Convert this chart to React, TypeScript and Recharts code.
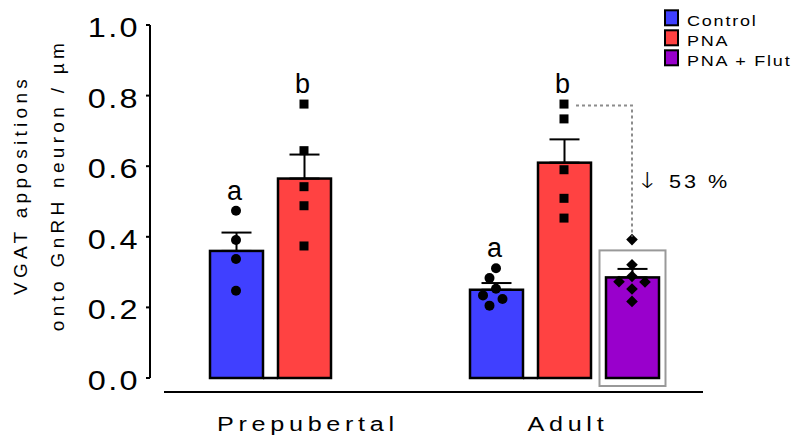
import React from 'react';
import { ComposedChart, Bar, Scatter, XAxis, YAxis, ErrorBar, Legend } from 'recharts';

// values
const groups = ['Prepubertal', 'Adult'];
const seriesNames = ['Control', 'PNA', 'PNA + Flut'];
const seriesColors = ['#4040FF', '#FF4242', '#9900CC'];

const controlMean = [0.36, 0.25];
const pnaMean = [0.565, 0.61];
const flutMean: (number | null)[] = [null, 0.285];

const controlSem = [0.052, 0.019];
const pnaSem = [0.068, 0.066];
const flutSem: (number | null)[] = [null, 0.024];

const controlPrepubertal = [0.474, 0.391, 0.337, 0.247];
const controlAdult = [0.311, 0.283, 0.253, 0.234, 0.224, 0.205];
const pnaPrepubertal = [0.776, 0.644, 0.542, 0.488, 0.374];
const pnaAdult = [0.776, 0.734, 0.59, 0.509, 0.453];
const flutAdult = [0.392, 0.321, 0.288, 0.273, 0.272, 0.252, 0.217];

const controlLetters = ['a', 'a'];
const pnaLetters = ['b', 'b'];
const reductionArrow = '↓';
const reductionLabel = ' 53 %';

const yTicks = [0, 0.2, 0.4, 0.6, 0.8, 1.0];
const yLabelLines = ['VGAT appositions', 'onto GnRH neuron / µm'];

// layout
const W = 796;
const H = 438;
const MARGIN = { top: 25, right: 93, bottom: 10, left: 0 };
const Y_AXIS_W = 150;
const X_AXIS_H = 50;
const PX_PER_UNIT = H - MARGIN.top - MARGIN.bottom - X_AXIS_H; // y domain is 0..1
const BAR_SIZE = 53;
const BAR_GAP = 15;
const SLOT = BAR_SIZE + BAR_GAP;
const SX = 1.2; // text in the figure is drawn wide
const FONT = "'Liberation Sans', Arial, sans-serif";
const SWARM_STEP = 6.5;
const SWARM_MIN = 11;

const slotOffset = (slot: number) => (slot - 1) * SLOT;

// simple beeswarm: spread points that would overlap
function swarm(values: number[]): number[] {
  const order = values.map((_, i) => i).sort((a, b) => values[b] - values[a]);
  const placed: { x: number; y: number }[] = [];
  const out = values.map(() => 0);
  for (const i of order) {
    const y = -values[i] * PX_PER_UNIT;
    for (const k of [0, -1, 1, -2, 2, -3, 3]) {
      const x = k * SWARM_STEP;
      if (placed.every((p) => Math.hypot(p.x - x, p.y - y) >= SWARM_MIN)) {
        out[i] = x;
        placed.push({ x, y });
        break;
      }
    }
  }
  return out;
}

const chartData = groups.map((group, i) => ({
  group,
  control: controlMean[i],
  pna: pnaMean[i],
  flut: flutMean[i],
  controlErr: [0, controlSem[i]],
  pnaErr: [0, pnaSem[i]],
  flutErr: flutSem[i] == null ? null : [0, flutSem[i]],
}));

const scatterRows = (lists: number[][]) =>
  lists.flatMap((vals, gi) => {
    const jit = swarm(vals);
    return vals.map((v, k) => ({ group: groups[gi], v, jitter: jit[k] }));
  });

const letterRows = (lists: number[][], letters: string[]) =>
  lists.map((vals, gi) => ({ group: groups[gi], v: Math.max(...vals), letter: letters[gi] }));

const controlRows = scatterRows([controlPrepubertal, controlAdult]);
const pnaRows = scatterRows([pnaPrepubertal, pnaAdult]);
const flutRows = scatterRows([[], flutAdult]);
const controlLetterRows = letterRows([controlPrepubertal, controlAdult], controlLetters);
const pnaLetterRows = letterRows([pnaPrepubertal, pnaAdult], pnaLetters);
const reductionRows = [
  { group: groups[1], v: Math.max(...flutAdult), from: Math.max(...pnaAdult) },
];

const barShape = (slot: number) => (props: any) => {
  const { x, y, width, height, fill, value } = props;
  const v = Array.isArray(value) ? value[1] : value;
  if (v == null || x == null || !isFinite(height)) return <g />;
  return (
    <g>
      {slot === 2 && (
        <rect
          x={x - 6.5}
          y={y - 27}
          width={width + 13}
          height={height + 35}
          fill="none"
          stroke="#999"
          strokeWidth={2}
        />
      )}
      <rect x={x} y={y} width={width} height={height} fill={fill} stroke="#000" strokeWidth={2.5} />
      {slot === 0 && (
        <line x1={x + width} x2={x + width + BAR_GAP} y1={y + height} y2={y + height} stroke="#000" strokeWidth={2.5} />
      )}
    </g>
  );
};

const markerShape = (slot: number) => (props: any) => {
  const { cx, cy, payload } = props;
  if (cx == null || cy == null) return <g />;
  const x = cx + slotOffset(slot) + (payload?.jitter ?? 0);
  if (slot === 0) return <circle cx={x} cy={cy} r={5} fill="#000" />;
  if (slot === 1) return <rect x={x - 4.5} y={cy - 4.5} width={9} height={9} fill="#000" />;
  return <path d={`M${x} ${cy - 5.8}L${x + 5.8} ${cy}L${x} ${cy + 5.8}L${x - 5.8} ${cy}Z`} fill="#000" />;
};

const letterShape = (slot: number) => (props: any) => {
  const { cx, cy, payload } = props;
  if (cx == null || cy == null) return <g />;
  return (
    <text x={cx + slotOffset(slot) - 1.5} y={cy - 11} textAnchor="middle" fontSize={27} fontFamily={FONT} fill="#000">
      {payload.letter}
    </text>
  );
};

const reductionShape = (props: any) => {
  const { cx, cy, payload } = props;
  if (cx == null || cy == null) return <g />;
  const xFrom = cx + slotOffset(1);
  const xTo = cx + slotOffset(2);
  const yTop = cy - (payload.from - payload.v) * PX_PER_UNIT;
  const yMid = (yTop + cy) / 2;
  return (
    <g>
      <path
        d={`M${xFrom + 12} ${yTop + 1.5}H${xTo}V${cy - 3}`}
        fill="none"
        stroke="#8c8c8c"
        strokeWidth={2}
        strokeDasharray="3 3"
      />
      <text
        transform={`translate(${xTo + 4} ${yMid + 16.5}) scale(${SX} 1)`}
        fontSize={18}
        letterSpacing={2.5}
        fontFamily={FONT}
        fill="#000"
      >
        <tspan fontFamily="'DejaVu Sans', sans-serif" fontSize={22} fontWeight={300}>{reductionArrow}</tspan>
        <tspan dx={-1}>{reductionLabel}</tspan>
      </text>
    </g>
  );
};

const renderYTick = (props: any) => {
  const { x, y, payload } = props;
  return (
    <text
      transform={`translate(${x - 6} ${y + 12}) scale(${SX} 1)`}
      textAnchor="end"
      fontSize={27}
      letterSpacing={2}
      fontFamily={FONT}
      fill="#000"
    >
      {Number(payload.value).toFixed(1)}
    </text>
  );
};

const renderXTick = (props: any) => {
  const { x, y, payload } = props;
  return (
    <text
      transform={`translate(${x + 1.5} ${y + 53}) scale(${SX} 1)`}
      dx={2}
      textAnchor="middle"
      fontSize={21}
      letterSpacing={3.9}
      fontFamily={FONT}
      fill="#000"
    >
      {payload.value}
    </text>
  );
};

const renderYLabel = (props: any) => {
  const vb = props?.viewBox ?? {};
  const mid = (vb.y ?? MARGIN.top) + (vb.height ?? PX_PER_UNIT) / 2 - 16.5;
  return (
    <g>
      {yLabelLines.map((line, i) => (
        <text
          key={line}
          transform={`translate(${27 + i * 37} ${mid}) rotate(-90)`}
          textAnchor="middle"
          fontSize={19}
          letterSpacing={4.3}
          fontFamily={FONT}
          fill="#000"
          stroke="none"
        >
          {line}
        </text>
      ))}
    </g>
  );
};

const renderLegend = () => (
  <svg width={136} height={72} style={{ display: 'block' }}>
    {seriesNames.map((name, i) => (
      <g key={name}>
        <rect x={5} y={10.3 + i * 20} width={13} height={15} fill={seriesColors[i]} stroke="#000" strokeWidth={2} />
        <text
          transform={`translate(27 ${26 + i * 19.8}) scale(${SX} 1)`}
          fontSize={15}
          letterSpacing={1.5}
          fontFamily={FONT}
          fill="#000"
        >
          {name}
        </text>
      </g>
    ))}
  </svg>
);

export default function App() {
  return (
    <div style={{ position: 'absolute', left: 0, top: 0, width: W, height: H, background: '#fff' }}>
      <ComposedChart
        width={W}
        height={H}
        data={chartData}
        margin={MARGIN}
        barSize={BAR_SIZE}
        barGap={BAR_GAP}
      >
        <XAxis
          dataKey="group"
          type="category"
          allowDuplicatedCategory={false}
          height={X_AXIS_H}
          padding={{ left: 24, right: 9 }}
          tickSize={0}
          tickMargin={0}
          tickLine={false}
          tick={renderXTick}
          axisLine={{ stroke: '#000', strokeWidth: 2, transform: 'translate(0 14)', strokeDasharray: '0 14 1000' }}
        />
        <YAxis
          type="number"
          domain={[0, 1]}
          ticks={yTicks}
          interval={0}
          width={Y_AXIS_W}
          tickSize={4}
          tickMargin={0}
          axisLine={{ stroke: '#000', strokeWidth: 2 }}
          tickLine={{ stroke: '#000', strokeWidth: 2 }}
          tick={renderYTick}
          label={{ content: renderYLabel }}
        />
        <Legend
          layout="vertical"
          align="center"
          verticalAlign="middle"
          wrapperStyle={{ left: 660, top: 0, width: 136, height: 72 }}
          content={renderLegend}
        />
        <Bar dataKey="control" name={seriesNames[0]} fill={seriesColors[0]} shape={barShape(0)} isAnimationActive={false}>
          <ErrorBar dataKey="controlErr" direction="y" width={15} stroke="#000" strokeWidth={2} />
        </Bar>
        <Bar dataKey="pna" name={seriesNames[1]} fill={seriesColors[1]} shape={barShape(1)} isAnimationActive={false}>
          <ErrorBar dataKey="pnaErr" direction="y" width={15} stroke="#000" strokeWidth={2} />
        </Bar>
        <Bar dataKey="flut" name={seriesNames[2]} fill={seriesColors[2]} shape={barShape(2)} isAnimationActive={false}>
          <ErrorBar dataKey="flutErr" direction="y" width={15} stroke="#000" strokeWidth={2} />
        </Bar>
        <Scatter data={controlRows} dataKey="v" shape={markerShape(0)} legendType="none" isAnimationActive={false} />
        <Scatter data={pnaRows} dataKey="v" shape={markerShape(1)} legendType="none" isAnimationActive={false} />
        <Scatter data={flutRows} dataKey="v" shape={markerShape(2)} legendType="none" isAnimationActive={false} />
        <Scatter data={controlLetterRows} dataKey="v" shape={letterShape(0)} legendType="none" isAnimationActive={false} />
        <Scatter data={pnaLetterRows} dataKey="v" shape={letterShape(1)} legendType="none" isAnimationActive={false} />
        <Scatter data={reductionRows} dataKey="v" shape={reductionShape} legendType="none" isAnimationActive={false} />
      </ComposedChart>
    </div>
  );
}
